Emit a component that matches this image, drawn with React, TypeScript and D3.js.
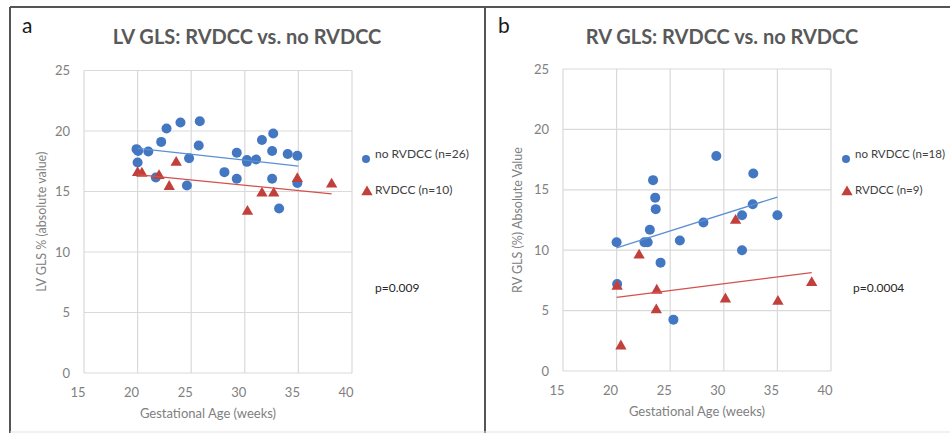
import * as d3 from 'd3';

// gestational age (weeks), GLS (absolute value)
const weekTicks = [15, 20, 25, 30, 35, 40];
const glsTicks = [0, 5, 10, 15, 20, 25];

const lvNoRvdcc: [number, number][] = [
  [19.9, 18.5], [20.05, 18.35], [20.0, 17.4], [21.0, 18.3], [21.7, 16.15], [22.2, 19.1],
  [22.7, 20.2], [24.0, 20.7], [24.6, 15.5], [24.8, 17.75], [25.7, 18.8], [25.8, 20.8],
  [28.1, 16.6], [29.25, 18.2], [29.25, 16.05], [30.2, 17.6], [30.2, 17.45], [31.05, 17.65],
  [31.6, 19.25], [32.65, 19.8], [32.55, 18.35], [32.55, 16.05], [33.2, 13.6], [34.0, 18.1],
  [34.9, 17.95], [34.9, 15.7],
];
const lvRvdcc: [number, number][] = [
  [20.0, 16.55], [20.4, 16.5], [22.0, 16.3], [22.95, 15.4], [23.6, 17.4],
  [30.25, 13.35], [31.6, 14.85], [32.7, 14.85], [34.9, 16.05], [38.1, 15.6],
];
const rvNoRvdcc: [number, number][] = [
  [20.0, 10.66], [22.6, 10.66], [22.9, 10.66], [23.1, 11.7], [23.4, 15.8], [23.6, 14.35],
  [23.65, 13.4], [25.9, 10.8], [28.1, 12.3], [29.3, 17.8], [31.7, 12.9], [31.7, 10.0],
  [32.7, 13.8], [32.75, 16.35], [35.0, 12.9], [24.1, 8.97], [20.05, 7.2], [25.3, 4.25],
];
const rvRvdcc: [number, number][] = [
  [22.1, 9.58], [20.05, 7.0], [23.75, 6.67], [23.7, 5.05], [20.4, 2.06],
  [30.15, 5.95], [35.05, 5.75], [38.2, 7.3], [31.1, 12.46],
];

// linear trendline endpoints
const lvNoTrend: [number, number][] = [[20, 18.57], [35, 17.1]];
const lvRvTrend: [number, number][] = [[20, 16.4], [38.1, 14.8]];
const rvNoTrend: [number, number][] = [[20, 10.2], [35, 14.4]];
const rvRvTrend: [number, number][] = [[20, 6.1], [38.2, 8.15]];

const panels = [
  {
    letter: 'a', title: 'LV GLS: RVDCC vs. no RVDCC', yTitle: 'LV GLS % (absolute value)',
    noLabel: 'no RVDCC (n=26)', rvLabel: 'RVDCC (n=10)', p: 'p=0.009',
    no: lvNoRvdcc, rv: lvRvdcc, noTrend: lvNoTrend, rvTrend: lvRvTrend,
    left: 84, right: 352, top: 70.5, bottom: 373,
    titleX: 247, letterX: 22, yTitleX: 42, xTitleX: 208, legX: 366, legFont: 12, pX: 375,
  },
  {
    letter: 'b', title: 'RV GLS: RVDCC vs. no RVDCC', yTitle: 'RV GLS (%) Absolute Value',
    noLabel: 'no RVDCC (n=18)', rvLabel: 'RVDCC (n=9)', p: 'p=0.0004',
    no: rvNoRvdcc, rv: rvRvdcc, noTrend: rvNoTrend, rvTrend: rvRvTrend,
    left: 563, right: 831, top: 69, bottom: 371,
    titleX: 722, letterX: 498, yTitleX: 518, xTitleX: 697, legX: 846, legFont: 11.5, pX: 853,
  },
];

const FONT = 'Lato, "Open Sans", sans-serif';
const BLUE = '#4377c1';
const RED = '#c2403c';
const GRID = '#d9d9d9';
const TICK = '#808080';

const tri = d3.symbol(d3.symbolTriangle, 56)()!;

function Panel({ cfg }: { cfg: (typeof panels)[number] }) {
  const x = d3.scaleLinear().domain([15, 40]).range([cfg.left, cfg.right]);
  const y = d3.scaleLinear().domain([0, 25]).range([cfg.bottom, cfg.top]);
  const line = d3.line<[number, number]>().x(d => x(d[0])).y(d => y(d[1]));
  const midY = (cfg.top + cfg.bottom) / 2;

  return (
    <g fontFamily={FONT}>
      <text x={cfg.letterX} y={33} fontSize={21} fill="#1a1a1a">{cfg.letter}</text>
      <text x={cfg.titleX} y={44} textAnchor="middle" fontSize={20} fontWeight={700} fill="#595959">
        {cfg.title}
      </text>

      {/* grid */}
      {glsTicks.map(t => (
        <line key={'h' + t} x1={cfg.left} x2={cfg.right} y1={y(t)} y2={y(t)} stroke={GRID} strokeWidth={1.2} />
      ))}
      {weekTicks.map(t => (
        <line key={'v' + t} x1={x(t)} x2={x(t)} y1={cfg.top} y2={cfg.bottom} stroke={GRID} strokeWidth={1.2} />
      ))}

      {/* tick labels */}
      {glsTicks.map(t => (
        <text key={'yl' + t} x={cfg.left - 14} y={y(t)} dy="0.35em" textAnchor="end" fontSize={13} fill={TICK}>
          {t}
        </text>
      ))}
      {weekTicks.map(t => (
        <text key={'xl' + t} x={x(t) - 6} y={cfg.bottom + 19} dy="0.35em" textAnchor="middle" fontSize={13} fill={TICK}>
          {t}
        </text>
      ))}

      <text x={cfg.xTitleX} y={cfg.bottom + 45} textAnchor="middle" fontSize={13} fill={TICK}>
        Gestational Age (weeks)
      </text>
      <text
        transform={`translate(${cfg.yTitleX},${midY}) rotate(-90)`}
        textAnchor="middle" dy="0.35em" fontSize={12.5} fill={TICK}
      >
        {cfg.yTitle}
      </text>

      {/* points */}
      {cfg.no.map((d, i) => (
        <circle key={'n' + i} cx={x(d[0])} cy={y(d[1])} r={5} fill={BLUE} />
      ))}
      {cfg.rv.map((d, i) => (
        <path key={'r' + i} d={tri} transform={`translate(${x(d[0])},${y(d[1])})`} fill={RED} />
      ))}

      {/* trendlines */}
      <path d={line(cfg.noTrend)!} fill="none" stroke="#5b8fd3" strokeWidth={1.3} />
      <path d={line(cfg.rvTrend)!} fill="none" stroke="#d4504c" strokeWidth={1.3} />

      {/* legend */}
      <circle cx={cfg.legX} cy={159} r={4} fill={BLUE} />
      <text x={cfg.legX + 9} y={154} dy="0.35em" fontSize={cfg.legFont} fill="#404040">{cfg.noLabel}</text>
      <path d={tri} transform={`translate(${cfg.legX + 1},${192})`} fill={RED} />
      <text x={cfg.legX + 9} y={190} dy="0.35em" fontSize={cfg.legFont} fill="#404040">{cfg.rvLabel}</text>

      <text x={cfg.pX} y={288} dy="0.35em" fontSize={12} fill="#262626">{cfg.p}</text>
    </g>
  );
}

export default function App() {
  return (
    <svg
      width={950}
      height={433}
      style={{ position: 'absolute', left: 0, top: 0, display: 'block', background: '#fff' }}
    >
      <rect x={0} y={0} width={950} height={433} fill="#fff" />
      {/* frame */}
      <line x1={10} x2={950} y1={7} y2={7} stroke="#555" strokeWidth={2} />
      <line x1={10} x2={10} y1={7} y2={433} stroke="#555" strokeWidth={2} />
      <line x1={485} x2={485} y1={7} y2={433} stroke="#555" strokeWidth={2} />
      <line x1={10} x2={950} y1={432} y2={432} stroke="#e3e3e3" strokeWidth={1} />
      {panels.map(p => (
        <Panel key={p.letter} cfg={p} />
      ))}
    </svg>
  );
}
